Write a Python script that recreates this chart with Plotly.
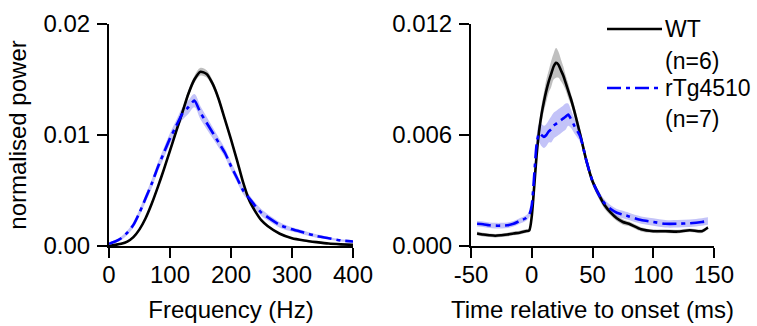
import plotly.graph_objects as go

# ---------------- data ----------------
freq_hz = [0, 10, 20, 30, 40, 50, 60, 70, 80, 90, 100, 110, 120, 130, 140, 150, 160, 170,
           180, 190, 200, 210, 220, 230, 240, 250, 260, 280, 300, 320, 340, 360, 380, 400]
wt_power = [0.0000, 0.0001, 0.0002, 0.0004, 0.0008, 0.0015, 0.0025, 0.0038, 0.0053, 0.0069,
            0.0086, 0.0103, 0.0120, 0.0137, 0.0150, 0.0157, 0.0155, 0.0146, 0.0132, 0.0114,
            0.0096, 0.0077, 0.0057, 0.0041, 0.0031, 0.0023, 0.0018, 0.0011, 0.0007, 0.0005,
            0.00035, 0.00022, 0.00015, 0.0001]
wt_power_sem = [0.00005, 0.00005, 0.00005, 0.00008, 0.0001, 0.0001, 0.00012, 0.00015, 0.00018, 0.0002,
                0.00022, 0.00025, 0.00028, 0.0003, 0.00032, 0.00035, 0.00033, 0.0003, 0.00028, 0.00025,
                0.00022, 0.0002, 0.00018, 0.00015, 0.00012, 0.0001, 0.0001, 0.00008, 0.00007, 0.00006,
                0.00005, 0.00005, 0.00004, 0.00004]
tg_power = [0.0002, 0.0004, 0.0007, 0.0012, 0.0019, 0.0030, 0.0043, 0.0056, 0.0071, 0.0084,
            0.0097, 0.0108, 0.0119, 0.0125, 0.0131, 0.0120, 0.0111, 0.0102, 0.0093, 0.0084,
            0.0072, 0.0061, 0.0050, 0.0043, 0.0036, 0.0030, 0.0026, 0.0019, 0.0015, 0.0012,
            0.0009, 0.0007, 0.0005, 0.0004]
tg_power_sem = [0.0001, 0.00012, 0.00015, 0.0002, 0.00025, 0.0003, 0.00035, 0.0004, 0.00042, 0.00045,
                0.00048, 0.0005, 0.00055, 0.0006, 0.0006, 0.0006, 0.00055, 0.0005, 0.00045, 0.0004,
                0.00038, 0.00035, 0.00033, 0.0003, 0.0003, 0.0003, 0.00028, 0.00025, 0.0002, 0.00018,
                0.00015, 0.00012, 0.0001, 0.0001]

time_ms = [-45, -40, -35, -30, -25, -20, -15, -10, -5, -2, 0, 2, 4, 6, 8, 10, 12, 14, 16, 18,
           20, 22, 24, 26, 28, 30, 32, 35, 40, 45, 50, 55, 60, 65, 70, 75, 80, 90, 100, 110,
           120, 130, 140, 145]
wt_onset = [0.00068, 0.00062, 0.00058, 0.00055, 0.00058, 0.00062, 0.00068, 0.00072, 0.00080, 0.00085,
            0.0016, 0.0032, 0.0049, 0.0062, 0.0071, 0.0078, 0.0084, 0.0089, 0.0093, 0.0097,
            0.0099, 0.0098, 0.0095, 0.0092, 0.0088, 0.0084, 0.0080, 0.0073, 0.0060, 0.0046,
            0.0035, 0.0028, 0.0022, 0.0018, 0.0015, 0.0013, 0.0012, 0.0009, 0.0008, 0.0008,
            0.00078, 0.00085, 0.0008, 0.0010]
wt_onset_sem = [0.0001, 0.0001, 0.0001, 0.0001, 0.0001, 0.0001, 0.0001, 0.0001, 0.0001, 0.0001,
                0.00015, 0.0002, 0.0003, 0.0004, 0.0005, 0.0005, 0.0006, 0.0006, 0.0007, 0.0007,
                0.0008, 0.0007, 0.0006, 0.0005, 0.0004, 0.0004, 0.0003, 0.0003, 0.0003, 0.00025,
                0.0002, 0.0002, 0.0002, 0.00015, 0.00015, 0.00015, 0.00012, 0.00012, 0.0001, 0.0001,
                0.0001, 0.0001, 0.0001, 0.0001]
tg_onset = [0.0012, 0.00118, 0.00112, 0.0011, 0.0011, 0.00112, 0.0012, 0.00135, 0.0015, 0.0017,
            0.0022, 0.0038, 0.0055, 0.0061, 0.0060, 0.0059, 0.0060, 0.0062, 0.0063, 0.0065,
            0.0066, 0.0067, 0.0068, 0.0069, 0.0070, 0.0071, 0.0069, 0.0065, 0.0059, 0.0046,
            0.0035, 0.0028, 0.0023, 0.0020, 0.0018, 0.0017, 0.0016, 0.0014, 0.0013, 0.0012,
            0.0012, 0.00123, 0.0013, 0.00135]
tg_onset_sem = [0.00015, 0.00015, 0.00015, 0.00015, 0.00015, 0.00015, 0.00015, 0.00015, 0.00015, 0.00015,
                0.0002, 0.0003, 0.0004, 0.0005, 0.0006, 0.0006, 0.0006, 0.0006, 0.0007, 0.0007,
                0.0007, 0.0007, 0.0007, 0.0007, 0.0007, 0.0006, 0.0005, 0.0004, 0.0003, 0.00025,
                0.0002, 0.0002, 0.0002, 0.0002, 0.0002, 0.0002, 0.0002, 0.0002, 0.0002, 0.0002,
                0.0002, 0.0002, 0.0002, 0.0002]

freq_ticks = [0, 100, 200, 300, 400]
power_ticks = [0.0, 0.01, 0.02]
power_tick_labels = ["0.00", "0.01", "0.02"]
time_ticks = [-50, 0, 50, 100, 150]
time_tick_labels = ["-50", "0", "50", "100", "150"]
onset_ticks = [0.0, 0.006, 0.012]
onset_tick_labels = ["0.000", "0.006", "0.012"]

legend_names = ["WT", "(n=6)", "rTg4510", "(n=7)"]

# ---------------- styles ----------------
FONT = "Liberation Sans, Arial, sans-serif"
FS = 24
BLACK = "#000000"
BLUE = "#0000ff"
GREY_BAND = "rgba(0,0,0,0.25)"
BLUE_BAND = "rgba(40,40,230,0.28)"
DASHDOT = "14px,5px,4px,5px"

fig = go.Figure()


def band(x, y, s, color, xa, ya):
    upper = [a + b for a, b in zip(y, s)]
    lower = [a - b for a, b in zip(y, s)]
    fig.add_trace(go.Scatter(x=x, y=upper, mode="lines", line=dict(width=0, shape="spline"),
                             showlegend=False, hoverinfo="skip", xaxis=xa, yaxis=ya))
    fig.add_trace(go.Scatter(x=x, y=lower, mode="lines", line=dict(width=0, shape="spline"),
                             fill="tonexty", fillcolor=color, showlegend=False,
                             hoverinfo="skip", xaxis=xa, yaxis=ya))


def line(x, y, color, dash, xa, ya, shape="spline"):
    fig.add_trace(go.Scatter(x=x, y=y, mode="lines",
                             line=dict(color=color, width=2.6, dash=dash, shape=shape, smoothing=0.6),
                             showlegend=False, xaxis=xa, yaxis=ya))


band(freq_hz, wt_power, wt_power_sem, GREY_BAND, "x", "y")
band(freq_hz, tg_power, tg_power_sem, BLUE_BAND, "x", "y")
line(freq_hz, wt_power, BLACK, "solid", "x", "y")
line(freq_hz, tg_power, BLUE, DASHDOT, "x", "y")

band(time_ms, wt_onset, wt_onset_sem, GREY_BAND, "x2", "y2")
band(time_ms, tg_onset, tg_onset_sem, BLUE_BAND, "x2", "y2")
line(time_ms, wt_onset, BLACK, "solid", "x2", "y2")
line(time_ms, tg_onset, BLUE, DASHDOT, "x2", "y2")

W, H = 757, 326
ytop, ybot = 1 - 24 / H, 1 - 246 / H

axis_common = dict(showline=True, linecolor=BLACK, linewidth=2, ticks="outside", ticklen=10,
                   tickwidth=2, tickcolor=BLACK, showgrid=False, zeroline=False,
                   automargin=False,
                   tickfont=dict(family=FONT, size=FS, color=BLACK),
                   title_font=dict(family=FONT, size=FS, color=BLACK))

fig.update_layout(
    width=W, height=H, margin=dict(l=0, r=0, t=0, b=0, autoexpand=False),
    paper_bgcolor="white", plot_bgcolor="white", showlegend=False,
    xaxis=dict(domain=[109 / W, 353 / W], range=[0, 400], tickvals=freq_ticks,
               anchor="y", ticklabelstandoff=-4,
               title=dict(text="Frequency (Hz)", standoff=14), **axis_common),
    yaxis=dict(domain=[ybot, ytop], range=[0, 0.02], tickvals=power_ticks,
               ticktext=power_tick_labels, anchor="x", ticklabelstandoff=2,
               title=dict(text="normalised power", standoff=10), **axis_common),
    xaxis2=dict(domain=[471 / W, 714 / W], range=[-50, 150], tickvals=time_ticks,
                ticktext=time_tick_labels, ticklabelstandoff=-4,
                anchor="y2", title=dict(text="Time relative to onset (ms)", standoff=14),
                **axis_common),
    yaxis2=dict(domain=[ybot, ytop], range=[0, 0.012], tickvals=onset_ticks,
                ticktext=onset_tick_labels, anchor="x2", ticklabelstandoff=2, **axis_common),
)

# legend (drawn manually to match the long line swatches)
leg_rows = [29, 61, 88, 119]
fig.add_shape(type="line", xref="paper", yref="paper", x0=607 / W, x1=662 / W,
              y0=1 - leg_rows[0] / H, y1=1 - leg_rows[0] / H,
              line=dict(color=BLACK, width=2.6))
fig.add_shape(type="line", xref="paper", yref="paper", x0=607 / W, x1=662 / W,
              y0=1 - leg_rows[2] / H, y1=1 - leg_rows[2] / H,
              line=dict(color=BLUE, width=2.6, dash=DASHDOT))
for name, row in zip(legend_names, leg_rows):
    fig.add_annotation(text=name, xref="paper", yref="paper", x=663 / W, y=1 - row / H,
                       xanchor="left", yanchor="middle", showarrow=False,
                       font=dict(family=FONT, size=FS - 1, color=BLACK))

fig.write_html("out.html")
